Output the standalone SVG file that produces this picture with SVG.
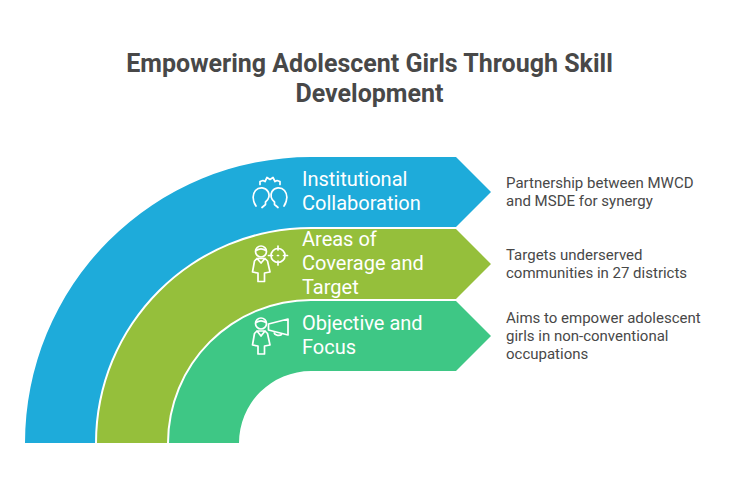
<svg xmlns="http://www.w3.org/2000/svg" width="733" height="492" viewBox="0 0 733 492">
<style>
.title{font:bold 25px Roboto,"Liberation Sans",sans-serif;fill:#484848;text-anchor:middle}
.lab{font:400 20px Roboto,"Liberation Sans",sans-serif;fill:#fff}
.desc{font:15px Roboto,"Liberation Sans",sans-serif;fill:#484848}
.ic{fill:none;stroke:#fff;stroke-width:1.7;stroke-linecap:round;stroke-linejoin:round}
</style>
<rect width="733" height="492" fill="#fff"/>
<g id="title">
<text class="title" x="369.500" y="72">Empowering Adolescent Girls Through Skill</text>
<text class="title" x="369.500" y="102">Development</text>
</g>
<g id="node-institutional">
<path d="M25 443A286 286 0 0 1 311 157H456L491 192L456 227H311A216 216 0 0 0 95 443Z" fill="#1eabda"/>
<path class="ic" d="M260 184.500V181.500L263 180.500L265 181.500L267 177.500L270 179.500L273 177.500L275 181.500L277 180.500L280 181.500V184.500"/>
<path class="ic" d="M256 206C252 200 252.500 194 255.500 190.500C259 186.500 265.500 187 268 191.500C270 195 269 199.500 265.500 202V204.500L262 207.500M256 206L254.500 203.500"/>
<path class="ic" d="M284 206C288 200 287.500 194 284.500 190.500C281 186.500 274.500 187 272 191.500C270 195 271 199.500 274.500 202V204.500L278 207.500M284 206L285.500 203.500"/>
<text class="lab" x="302" y="185.500">Institutional</text>
<text class="lab" x="302" y="209.500">Collaboration</text>
</g>
<g id="node-coverage">
<path d="M97 443A214 214 0 0 1 311 229H456L491 264L456 299H311A144 144 0 0 0 167 443Z" fill="#95bf3b"/>
<circle class="ic" cx="261" cy="251.500" r="5.500"/>
<path class="ic" d="M256 250.500C259 248.500 263 248.500 266 250.500"/>
<path class="ic" d="M257 258.500H265L267.500 261L270 272L264.500 273V281.500H258V273L252.500 272L254.500 261ZM257 258.500L261 263L265 258.500"/>
<circle class="ic" cx="278" cy="255.500" r="7"/>
<path class="ic" d="M278 246V250M278 261V265M268.500 255.500H272.500M283.500 255.500H287.500M277.500 255.500H278.500"/>
<text class="lab" x="302" y="245.500">Areas of</text>
<text class="lab" x="302" y="269.500">Coverage and</text>
<text class="lab" x="302" y="293.500">Target</text>
</g>
<g id="node-objective">
<path d="M169 443A142 142 0 0 1 311 301H456L491 336L456 371H311A72 72 0 0 0 239 443Z" fill="#3ec785"/>
<circle class="ic" cx="261" cy="323.500" r="5.500"/>
<path class="ic" d="M256 322.500C259 320.500 263 320.500 266 322.500"/>
<path class="ic" d="M257 331H265L267.500 333.500L270 345L264.500 346V354H258V346L252.500 345L254.500 333.500ZM257 331L261 336L265 331"/>
<path class="ic" d="M268.500 324V330L288 335V319L268.500 324M274 331.500C274 336 281 336.500 282 333.500"/>
<text class="lab" x="302" y="329.500">Objective and</text>
<text class="lab" x="302" y="353.500">Focus</text>
</g>
<g id="desc-1">
<text class="desc" x="506" y="188">Partnership between MWCD</text>
<text class="desc" x="506" y="206">and MSDE for synergy</text>
</g>
<g id="desc-2">
<text class="desc" x="506" y="260">Targets underserved</text>
<text class="desc" x="506" y="278">communities in 27 districts</text>
</g>
<g id="desc-3">
<text class="desc" x="506" y="323">Aims to empower adolescent</text>
<text class="desc" x="506" y="341">girls in non-conventional</text>
<text class="desc" x="506" y="359">occupations</text>
</g>
<g id="connectors"/>
</svg>
